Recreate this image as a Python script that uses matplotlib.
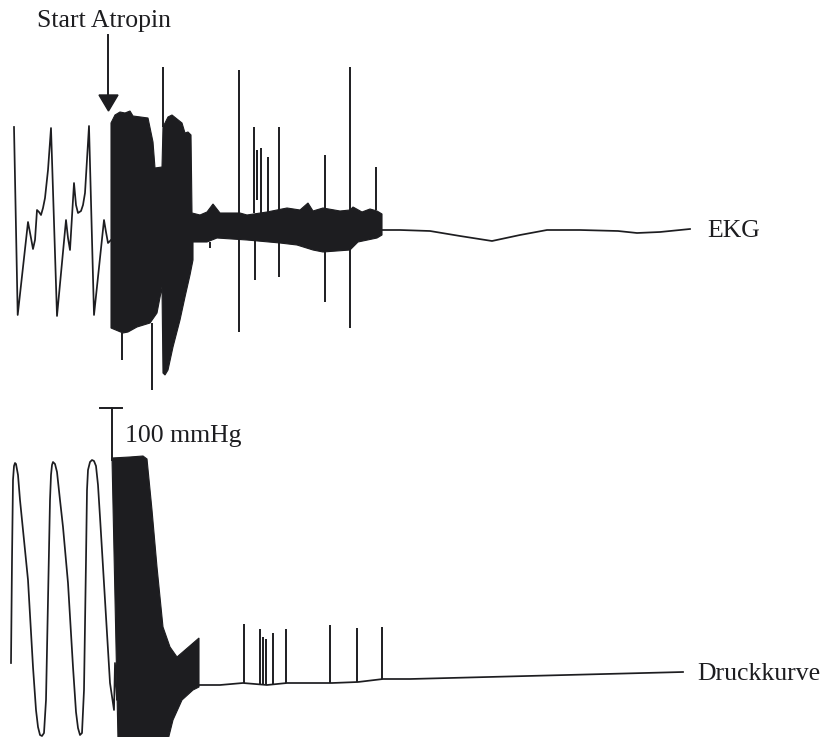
import matplotlib.pyplot as plt

# Schematische Kurven: EKG und Druckkurve nach Atropingabe (Pixelkoordinaten des Bildes)

# EKG vor Atropin
ekg_x = [14, 17.7, 28, 31, 33, 35, 37, 39, 41, 43, 45, 48, 51, 57, 66, 68, 70, 74, 76, 78,
         81, 83, 85, 89, 94, 104, 106, 108, 111]
ekg_y = [127, 315, 222, 238, 249, 240, 210, 212, 215, 208, 198, 170, 128, 316, 220, 238, 250,
         183, 205, 213, 211, 205, 193, 126, 315, 220, 232, 243, 240]

# schwarzer Bereich (Flimmern) im EKG
ekg_fill_x = [111, 115, 120, 125, 130, 133, 148, 153, 155, 162, 163, 168, 172, 182, 185, 188,
              191, 192, 200, 207, 213, 220, 240, 247, 267, 287, 300, 308, 313, 323, 340, 350,
              353, 362, 370, 377, 382, 382, 377, 358, 350, 323, 313, 297, 280, 247, 217, 207,
              193, 193, 190, 185, 180, 173, 168, 165, 163, 162, 157, 150, 137, 128, 123, 111]
ekg_fill_y = [123, 115, 112, 113, 111, 116, 118, 142, 168, 167, 127, 117, 115, 123, 133, 132,
              135, 213, 215, 212, 204, 213, 213, 215, 212, 208, 210, 203, 211, 208, 211, 210,
              207, 212, 209, 211, 214, 235, 238, 242, 250, 252, 250, 245, 243, 240, 238, 242,
              242, 260, 275, 297, 320, 347, 370, 375, 373, 287, 313, 323, 327, 332, 333, 328]

# einzelne Ausschlaege im EKG: x, oben, unten
ekg_spike_x = [163, 122, 152, 239, 254, 255, 257, 261, 268, 279, 325, 350, 376, 210]
ekg_spike_top = [67, 333, 323, 70, 127, 240, 150, 148, 157, 127, 155, 67, 167, 242]
ekg_spike_bot = [127, 360, 390, 332, 213, 280, 200, 213, 213, 277, 302, 328, 210, 248]

# EKG nach dem Flimmern
ekg_tail_x = [382, 400, 430, 460, 492, 520, 547, 580, 618, 637, 660, 690]
ekg_tail_y = [230, 230, 231, 236, 241, 235, 230, 230, 231, 233, 232, 229]

# Druckkurve vor Atropin
p_x = [11, 12, 13, 14, 15, 16, 18, 20, 23, 28, 33, 36, 38, 40, 42, 44, 46, 48, 50, 51, 52,
       53, 55, 57, 60, 63, 68, 73, 76, 78, 80, 82, 84, 86, 87, 88, 90, 92, 94, 96, 98, 100,
       105, 110, 114, 115, 117, 118]
p_y = [663, 560, 480, 466, 463, 464, 475, 500, 530, 580, 667, 710, 727, 735, 736, 733, 700,
       600, 500, 475, 465, 462, 464, 472, 500, 527, 583, 667, 712, 728, 735, 733, 690, 560,
       490, 470, 462, 460, 461, 466, 485, 517, 600, 683, 710, 663, 700, 690]

# schwarzer Bereich in der Druckkurve
p_fill_x = [112, 130, 143, 147, 152, 157, 163, 170, 177, 199, 199, 193, 182, 173, 168, 118]
p_fill_y = [458, 457, 456, 459, 510, 567, 627, 647, 657, 638, 687, 690, 700, 720, 740, 740]

# Druckkurve danach mit Ausschlaegen
p_tail_x = [199, 220, 243, 267, 287, 332, 358, 383, 410, 683]
p_tail_y = [685, 685, 683, 685, 683, 683, 682, 679, 679, 672]
p_spike_x = [244, 260, 263, 266, 273, 286, 330, 357, 382]
p_spike_top = [624, 629, 637, 639, 633, 629, 625, 628, 627]
p_spike_bot = [683, 684, 685, 685, 684, 683, 683, 682, 679]

ink = '#1d1d20'
serif = ['Liberation Serif', 'DejaVu Serif']
fs = 18.5
lw = 1.25

fig = plt.figure(figsize=(8.3, 7.37), dpi=100)
ax = fig.add_axes([0, 0, 1, 1])
ax.set_xlim(0, 830)
ax.set_ylim(737, 0)
ax.axis('off')

# EKG
ax.plot(ekg_x, ekg_y, color=ink, lw=lw, solid_joinstyle='round')
ax.fill(ekg_fill_x, ekg_fill_y, color=ink, lw=0.8)
ax.vlines(ekg_spike_x, ekg_spike_top, ekg_spike_bot, color=ink, lw=1.4)
ax.plot(ekg_tail_x, ekg_tail_y, color=ink, lw=lw)

# Druckkurve
ax.plot(p_x, p_y, color=ink, lw=lw, solid_joinstyle='round')
ax.fill(p_fill_x, p_fill_y, color=ink, lw=0.8)
ax.plot(p_tail_x, p_tail_y, color=ink, lw=lw)
ax.vlines(p_spike_x, p_spike_top, p_spike_bot, color=ink, lw=1.4)

# Pfeil "Start Atropin"
ax.plot([108, 108], [35, 96], color=ink, lw=1.4)
ax.fill([99, 118, 108.5], [95, 95, 111], color=ink)
ax.text(37, 27, 'Start Atropin', family=serif, fontsize=fs, color=ink, va='baseline')

# Skalenbalken 100 mmHg
ax.plot([112, 112], [408, 460], color=ink, lw=1.4)
ax.plot([100, 122], [408, 408], color=ink, lw=1.4)
ax.text(125, 442, '100 mmHg', family=serif, fontsize=fs, color=ink, va='baseline')

ax.text(707, 237, 'EKG', family=serif, fontsize=fs, color=ink, va='baseline')
ax.text(697, 680, 'Druckkurve', family=serif, fontsize=fs, color=ink, va='baseline')

fig.savefig('out.png', dpi=100)
